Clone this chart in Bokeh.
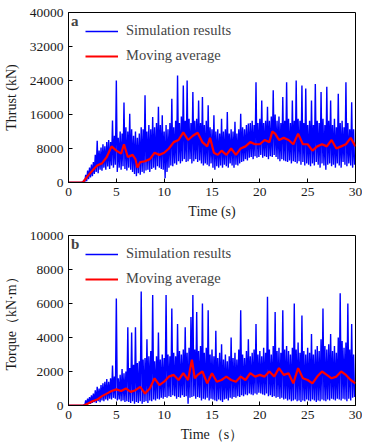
import numpy as np
from bokeh.plotting import figure
from bokeh.layouts import column
from bokeh.models import FixedTicker, Label, Range1d, Legend, LegendItem
from bokeh.embed import file_html
from bokeh.resources import INLINE

# ---------------- data ----------------
# Thrust (kN): simulation signal, upper swings at t = 0.0, 0.2, ... and lower swings at t = 0.1, 0.3, ...
thrust_upper = [
    0, 0, 0, 0, 0, 0, 0, 100, 600, 1800,
    2800, 3500, 4200, 4800, 6500, 9800, 7500, 8200, 9000, 8500,
    9500, 10000, 9500, 14600, 11000, 24000, 10500, 12000, 11500, 18800,
    13000, 12000, 16200, 12500, 11000, 12000, 10500, 11500, 13000, 12500,
    20500, 12000, 13500, 12500, 15400, 13000, 14000, 17800, 13500, 15800,
    12000, 13500, 12500, 14000, 19700, 13000, 14500, 25200, 14000, 15500,
    22800, 14500, 24000, 15000, 14000, 21300, 14500, 15000, 19300, 14000,
    20100, 13500, 14500, 18200, 13000, 12500, 15800, 12000, 12500, 11500,
    15000, 12000, 12500, 16600, 11500, 12500, 12000, 14300, 11500, 12500,
    16200, 13000, 12500, 13500, 13900, 14000, 14500, 13500, 23600, 14000,
    15000, 19300, 14000, 14500, 17800, 14500, 15500, 21700, 16000, 14500,
    15500, 14000, 20100, 14500, 23600, 15000, 14000, 19300, 14500, 24000,
    15000, 14500, 22800, 14000, 22100, 13500, 14500, 19300, 13500, 23200,
    14500, 14000, 21300, 15000, 13500, 22500, 14500, 19300, 13500, 15000,
    13000, 20900, 14000, 14500, 13000, 23600, 14000, 12500, 18900, 12500,
]
thrust_lower = [
    0, 0, 0, 0, 0, 0, 0, 0, 100, 300,
    800, 1200, 1500, 2000, 2500, 2200, 3000, 2800, 3500, 3000,
    3800, 3200, 4000, 3500, 4200, 2500, 3500, 3000, 3800, 3200,
    2800, 3500, 3000, 2500, 2000, 1500, 2200, 1800, 2500, 2200,
    2800, 3000, 2500, 3200, 3500, 3000, 3800, 3500, 3200, 3000,
    1000, 2500, 3500, 4000, 3800, 4500, 4200, 5000, 4500, 5000,
    5500, 4800, 5000, 5500, 4500, 5000, 5500, 4800, 5200, 4500,
    4000, 4500, 4200, 3800, 4500, 3500, 3000, 3800, 3500, 4000,
    3500, 4200, 3800, 3500, 4500, 4000, 3500, 4200, 4000, 4500,
    4800, 5000, 5500, 5200, 5800, 6000, 5500, 6200, 5800, 6000,
    6500, 5800, 6200, 6000, 5500, 6200, 6000, 6500, 6000, 5500,
    5000, 5500, 5200, 5000, 4800, 5200, 4500, 5000, 4800, 4500,
    5000, 4200, 4800, 4000, 4500, 4200, 3800, 4500, 4000, 4800,
    4200, 3500, 4500, 4000, 3000, 4200, 4500, 3800, 4200, 3500,
    4500, 4000, 3500, 4800, 4200, 3800, 4500, 4000, 3500, 4200,
]
thrust_avg_t = [0, 1.5, 2, 2.5, 3, 3.5, 4, 4.5, 5, 5.5, 5.8, 6.2, 6.7, 7, 7.2, 7.5, 8, 8.5, 9, 9.5,
                10, 10.5, 11, 11.5, 12, 12.5, 13, 13.5, 14, 14.5, 14.8, 15.2, 15.6, 16, 16.5, 17, 17.5,
                18, 18.5, 19, 19.5, 20, 20.5, 21, 21.3, 21.6, 22, 22.5, 23, 23.5, 24, 24.5, 25, 25.5,
                26, 26.5, 27, 27.5, 28, 28.5, 29, 29.5, 30]
thrust_avg = [0, 0, 1500, 2800, 4000, 4500, 6000, 8500, 7500, 6800, 9000, 6000, 6500, 5500, 3500, 4800,
              5000, 5500, 7000, 6500, 7000, 8000, 9500, 10000, 11800, 10000, 11000, 11700, 9500, 8500,
              10500, 7000, 6500, 7500, 6500, 8000, 6500, 8000, 8500, 9500, 9000, 9000, 10000, 9500,
              12000, 11500, 10000, 10500, 10000, 9000, 11500, 9000, 9000, 7500, 8500, 9000, 8500,
              10000, 8000, 8500, 9000, 10500, 8500]

# Torque (kN·m)
torque_upper = [
    0, 0, 0, 0, 0, 0, 0, 0, 50, 300,
    400, 500, 600, 700, 900, 1100, 1000, 1200, 1300, 1400,
    1550, 1400, 1600, 2350, 1700, 6300, 1600, 1800, 2150, 1900,
    2000, 4600, 2200, 4300, 2400, 4600, 2500, 2600, 6700, 2700,
    2800, 3900, 2900, 3200, 6500,
    2600, 2900, 4300, 2700, 3000,
    2800, 6500, 3000, 2900, 5700, 3100, 2900, 4800, 3200, 3000,
    3300, 4600, 3100, 3400, 5200, 6500, 3300, 5500, 3200, 3500,
    6000, 3100, 3400, 5600, 3000, 3300, 2900, 4400, 2800, 3100,
    3600, 2700, 3000, 2600, 2900, 4000, 2800, 3100, 2700, 3300,
    5600, 3000, 2800, 3200, 3900, 2900, 3100, 3300, 4800, 3000,
    3200, 2900, 3400, 3100, 6400, 3300, 3000, 3500, 5500, 3200,
    3400, 3100, 5600, 3300, 3500, 3200, 3000, 3400, 6000, 3300,
    3700, 3100, 5300, 3200, 3000, 3400, 3100, 4200, 3000, 3300,
    3500, 3200, 3900, 5700, 3500, 3300, 3600, 4200, 3200, 3500,
    3100, 4000, 6600, 3800, 3400, 3700, 6000, 3300, 4800, 3000,
]
torque_lower = [
    0, 0, 0, 0, 0, 0, 0, 0, 0, 50,
    100, 100, 150, 200, 150, 250, 200, 300, 250, 350,
    300, 400, 350, 450, 400, 300, 350, 250, 300, 200,
    250, 200, 150, 250, 100, 200, 150, 250, 100, 200,
    250, 150, 300, 250, 350, 300, 400, 350, 450, 400,
    500, 450, 550, 500, 600, 550, 400, 500, 450, 600,
    500, 550, 100, 450, 500, 550, 400, 500, 450, 300,
    400, 350, 450, 300, 400, 350, 300, 250, 350, 300,
    200, 350, 400, 300, 450, 400, 500, 450, 550, 500,
    600, 550, 650, 600, 700, 650, 600, 700, 650, 750,
    700, 650, 600, 700, 550, 600, 500, 550, 450, 500,
    400, 450, 350, 400, 300, 350, 250, 300, 350, 250,
    300, 200, 300, 250, 350, 300, 250, 350, 300, 200,
    300, 250, 350, 300, 250, 350, 300, 400, 350, 300,
    400, 350, 300, 400, 350, 250, 400, 300, 450, 500,
]
torque_avg_t = [0, 1.6, 2, 2.5, 3, 3.5, 4, 4.5, 5, 5.5, 6, 6.5, 7, 7.5, 8, 8.5, 9, 9.5, 10, 10.5,
                11, 11.5, 12, 12.5, 12.9, 13.2, 13.5, 14, 14.5, 15, 15.5, 16, 16.5, 17, 17.5, 18,
                18.5, 19, 19.5, 20, 20.5, 21, 21.5, 22, 22.5, 23, 23.5, 24, 24.5, 25, 25.5, 26,
                26.5, 27, 27.5, 28, 28.5, 29, 29.5, 30]
torque_avg = [0, 0, 100, 250, 350, 550, 700, 850, 950, 850, 1000, 800, 900, 1100, 700, 1000, 1600,
              1200, 1400, 1700, 1800, 1500, 1900, 1500, 2700, 1600, 1800, 2000, 1300, 1900, 1400,
              1500, 1700, 1500, 1400, 1700, 1500, 1900, 1700, 1800, 1700, 2000, 1700, 2200, 1800,
              1900, 1300, 2200, 1600, 1500, 1300, 1700, 2000, 1800, 1600, 1700, 2000, 1800, 1500, 1300]

x_ticks = [0, 5, 10, 15, 20, 25, 30]
thrust_ticks = [0, 8000, 16000, 24000, 32000, 40000]
torque_ticks = [0, 2000, 4000, 6000, 8000, 10000]

FONT = "Liberation Serif"


def signal(up, lo):
    t_up = np.arange(len(up)) * 0.2
    t_lo = 0.1 + np.arange(len(lo)) * 0.2
    t = np.concatenate([t_up, t_lo])
    v = np.concatenate([np.asarray(up, float), np.asarray(lo, float)])
    order = np.argsort(t, kind="stable")
    return t[order], v[order]


def panel(up, lo, avg_t, avg, yticks, ylabel, xlabel, tag, height, top, bottom, left):
    ymax = yticks[-1]
    frame_h = height - top - bottom
    p = figure(width=362, height=height, output_backend="svg", toolbar_location=None,
               x_range=Range1d(0, 30), y_range=Range1d(0, ymax),
               min_border_left=left, min_border_right=7, min_border_top=top,
               min_border_bottom=bottom)
    t, v = signal(up, lo)
    r1 = p.line(t, v, line_color="#0000FF", line_width=1.4)
    r2 = p.line(avg_t, avg, line_color="#FF0000", line_width=2.2)

    legend = Legend(items=[LegendItem(label="Simulation results", renderers=[r1]),
                           LegendItem(label="Moving average", renderers=[r2])],
                    location=(17, frame_h - 52))
    legend.label_text_font = FONT
    legend.label_text_font_size = "14.5px"
    legend.glyph_width = 33
    legend.glyph_height = 16
    legend.label_height = 16
    legend.label_standoff = 8
    legend.spacing = 8
    legend.padding = 0
    legend.margin = 0
    legend.border_line_alpha = 0
    legend.background_fill_alpha = 0
    p.add_layout(legend)

    p.add_layout(Label(x=0.25, y=ymax * 0.952, text=tag, text_font=FONT,
                       text_font_style="bold", text_font_size="15px",
                       text_baseline="middle", text_align="left"))

    p.xaxis.ticker = FixedTicker(ticks=x_ticks)
    p.yaxis.ticker = FixedTicker(ticks=yticks)
    for ax in (p.xaxis, p.yaxis):
        ax.major_tick_in = 4
        ax.major_tick_out = 0
        ax.minor_tick_in = 0
        ax.minor_tick_out = 0
        ax.axis_line_color = "black"
        ax.major_tick_line_color = "black"
        ax.major_label_text_font = FONT
        ax.major_label_text_font_size = "13.5px"
        ax.major_label_text_color = "#1a1a1a"
        ax.axis_label_text_font = FONT
        ax.axis_label_text_font_size = "14px"
        ax.axis_label_text_font_style = "normal"
        ax.axis_label_text_color = "#1a1a1a"
    p.xaxis.axis_label = xlabel
    p.yaxis.axis_label = ylabel
    p.xaxis.major_label_standoff = 5
    p.xaxis.axis_label_standoff = 5
    p.yaxis.major_label_standoff = 5
    p.yaxis.axis_label_standoff = 8
    p.xgrid.visible = False
    p.ygrid.visible = False
    p.outline_line_color = "black"
    p.outline_line_width = 1
    p.outline_line_alpha = 1
    return p


p1 = panel(thrust_upper, thrust_lower, thrust_avg_t, thrust_avg, thrust_ticks,
           "Thrust (kN)", "Time (s)", "a", 223, 12, 41, 67)
p2 = panel(torque_upper, torque_lower, torque_avg_t, torque_avg, torque_ticks,
           "Torque（kN·m）", "Time（s）", "b", 222, 12, 40, 65)

layout = column(p1, p2, spacing=0)
open("out.html", "w").write(file_html(layout, INLINE))
